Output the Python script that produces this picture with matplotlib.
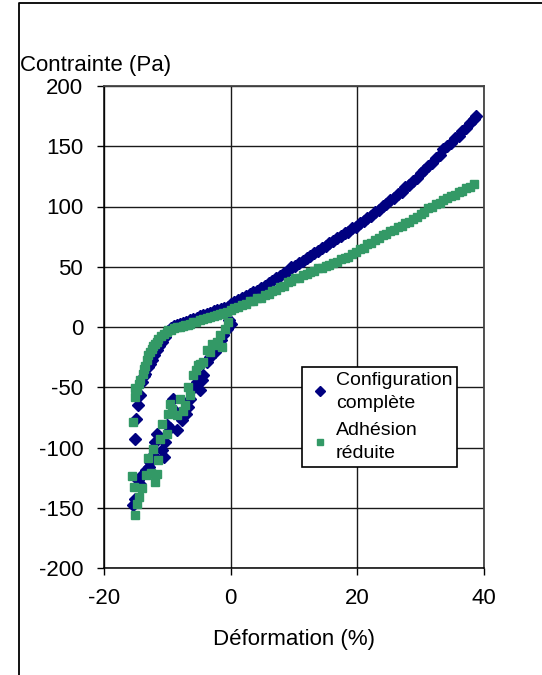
import matplotlib
matplotlib.use("Agg")
import matplotlib.pyplot as plt
from matplotlib.lines import Line2D

plt.rcParams['font.family'] = ['Liberation Sans', 'DejaVu Sans']
plt.rcParams['axes.unicode_minus'] = False

# ---- data ----
# Configuration complete (navy diamonds)
blue_neg_x = [-15.1, -14.9, -14.6, -14.3, -14.0, -13.7, -13.5, -13.1, -12.7, -12.5, -12.1, -11.7,
              -11.3, -10.9, -10.4, -9.9, -9.4, -8.9, -8.5, -8.0, -7.5, -7.0, -6.4, -5.9, -5.3,
              -4.8, -4.3, -3.8, -3.2, -2.7, -2.2, -1.6, -1.1, -0.5,
              -15.4, -15.1, -14.6, -14.3, -13.8, -13.3, -12.9, -12.7, -12.2, -11.7, -12.0, -10.9,
              -10.6, -10.4, -10.1, -9.6, -9.1, -8.5, -8.8, -7.7, -7.0, -6.8, -6.4, -5.9, -4.8,
              -5.3, -4.3, -4.6, -3.8, -3.3, -2.5, -2.0, -1.6, -1.2, -0.6, 0.0, -0.3]
blue_neg_y = [-92.7, -76, -65, -56.7, -45.7, -41, -38.7, -33, -30.4, -27, -23, -19.4,
              -15.5, -12.5, -8, -3.5, -1, 0.5, 1.9, 2.5, 3.2, 4.3, 5.5, 6.4, 7.6,
              8.9, 10.2, 11.0, 11.8, 13.0, 13.8, 14.6, 15.7, 16.9,
              -148, -143, -127, -130, -122, -119, -116, -112, -106.5, -88.5, -95.5, -102,
              -108, -95.5, -81.6, -84, -59.5, -85.8, -70, -77.4, -72, -66, -60, -51, -52.5,
              -46, -40, -44, -29, -25, -20.8, -15, -11, -6.9, -1.4, 2.7, 6]
blue_pos_x = [0.0, 0.6, 1.2, 1.8, 2.4, 3.0, 3.6, 4.2, 4.8, 5.4, 6.0, 6.6, 7.2, 7.8, 8.4, 9.0,
              9.6, 10.2, 10.8, 11.4, 12.0, 12.6, 13.2, 13.8, 14.4, 15.0, 15.6, 16.2, 16.8,
              17.4, 18.0, 18.6, 19.2, 19.8, 20.4, 21.0, 21.6, 22.2, 22.8, 23.4, 24.0, 24.6,
              25.2, 25.8, 26.4, 27.0, 27.6, 28.2, 28.8, 29.4, 30.0, 30.6, 31.2, 31.8, 32.4,
              33.0, 33.6, 34.2, 34.8, 35.4, 36.0, 36.6, 37.2, 37.8, 38.4, 38.8]
blue_pos_y = [19.0, 20.6, 22.3, 23.9, 25.7, 27.0, 28.9, 30.1, 32.2, 34.0, 36.4, 38.2, 40.6,
              42.3, 44.9, 46.8, 49.4, 50.9, 53.5, 55.1, 57.6, 59.0, 61.4, 62.9, 65.6, 67.2,
              69.8, 71.1, 73.7, 75.3, 77.6, 79.0, 81.8, 83.1, 86.0, 87.7, 90.8, 92.3, 95.4,
              97.2, 100.3, 102.1, 105.2, 106.9, 110.1, 112.4, 115.8, 117.9, 121.3, 123.8,
              127.5, 129.9, 133.8, 136.4, 140.5, 142.8, 147.4, 150.2, 153.1, 156.8, 158.9,
              162.4, 165.3, 169.6, 172.5, 174.8]

# Adhesion reduite (green squares)
green_neg_x = [-15.4, -15.1, -15.1, -14.8, -14.5, -14.3, -13.9, -13.7, -13.5, -13.2, -13.0, -12.7,
               -12.5, -12.2, -11.9, -11.7, -11.4, -11.0, -10.6, -10.1, -9.9, -9.5, -9.0, -8.5,
               -8.0, -7.6, -7.2, -6.8, -6.4, -5.9, -5.5, -4.9, -4.3, -3.8, -3.3, -2.7, -2.2,
               -1.7, -1.2, -0.6,
               -15.1, -14.8, -14.4, -15.2, -14.0, -15.6, -13.3, -12.0, -11.7, -12.6, -13.0,
               -11.4, -12.2, -11.2, -10.1, -10.9, -9.9, -9.6, -9.2, -8.5, -8.0, -7.2, -7.6,
               -6.4, -6.8, -5.9, -5.5, -5.1, -4.8, -4.3, -3.8, -3.3, -3.0, -2.7, -2.2, -2.0,
               -1.4, -1.7, -0.9, -0.4]
green_neg_y = [-79, -58, -51, -52, -47, -44, -39, -35, -32, -27, -23.5, -21,
               -18, -16, -14, -12.5, -9.7, -7.5, -5.6, -4, -2.8, -2.5, -1, -0.3,
               0, 0.8, 1.5, 2.0, 2.7, 3.8, 4.5, 5.5, 6.9, 7.2, 8.0, 8.9, 9.7,
               10.5, 11.5, 12.3,
               -155.8, -146.6, -141, -133, -134, -124, -123, -128.6, -121.8, -121, -108.7,
               -110.7, -101, -92.7, -88.5, -80.2, -72, -63.7, -68, -73.3, -59.5, -65, -70,
               -56.7, -50, -40, -36, -31.8, -30.4, -29, -19.4, -20.8, -13.9, -15.2, -12.5, -13.8,
               -16.6, -6.9, -1.4, 4.2]
green_pos_x = [0.0, 0.6, 1.2, 1.8, 2.4, 3.0, 3.6, 4.2, 4.8, 5.4, 6.0, 6.6, 7.2, 7.8, 8.4, 9.0,
               9.6, 10.2, 10.8, 11.4, 12.0, 12.6, 13.2, 13.8, 14.4, 15.0, 15.6, 16.2, 16.8,
               17.4, 18.0, 18.6, 19.2, 19.8, 20.4, 21.0, 21.6, 22.2, 22.8, 23.4, 24.0, 24.6,
               25.2, 25.8, 26.4, 27.0, 27.6, 28.2, 28.8, 29.4, 30.0, 30.6, 31.2, 31.8, 32.4,
               33.0, 33.6, 34.2, 34.8, 35.4, 36.0, 36.6, 37.2, 37.8, 38.4]
green_pos_y = [14.0, 15.9, 16.4, 18.6, 19.1, 21.2, 21.8, 23.9, 24.4, 26.3, 27.2, 29.9, 31.0,
               33.6, 34.4, 37.1, 38.0, 40.3, 40.9, 43.2, 43.8, 45.9, 46.6, 48.7, 48.9, 50.6,
               51.2, 53.4, 53.9, 56.2, 57.1, 58.5, 60.9, 62.1, 64.6, 65.9, 68.8, 69.9, 72.6,
               74.0, 76.3, 77.1, 79.6, 80.5, 82.8, 84.0, 86.1, 86.9, 89.6, 91.0, 93.9, 95.2,
               98.4, 99.6, 101.9, 103.1, 105.8, 107.0, 108.9, 109.8, 112.1, 113.0, 115.1,
               116.0, 118.4]

labels = ["Configuration\ncomplète", "Adhésion\nréduite"]
x_ticks = [-20, 0, 20, 40]
y_ticks = [-200, -150, -100, -50, 0, 50, 100, 150, 200]

# ---- figure ----
W, H = 542, 675
fig = plt.figure(figsize=(W / 100, H / 100), dpi=100)
ax = fig.add_axes([104 / W, 1 - 568 / H, 380 / W, 482 / H])

blue = "#000080"
green = "#339966"
ax.plot(blue_neg_x + blue_pos_x, blue_neg_y + blue_pos_y, linestyle="none", marker="D",
        ms=6.3, color=blue, mec=blue, label=labels[0], zorder=3)
ax.plot(green_neg_x + green_pos_x, green_neg_y + green_pos_y, linestyle="none", marker="s",
        ms=6.0, color=green, mec=green, label=labels[1], zorder=4)

ax.set_xlim(x_ticks[0], x_ticks[-1])
ax.set_ylim(y_ticks[0], y_ticks[-1])
ax.set_xticks(x_ticks)
ax.set_yticks(y_ticks)
ax.grid(True, color="#1a1a1a", linewidth=1.0)
ax.set_axisbelow(True)
for side in ["left", "bottom"]:
    ax.spines[side].set_color("black")
    ax.spines[side].set_linewidth(1.1)
for side in ["top", "right"]:
    ax.spines[side].set_color("#444444")
    ax.spines[side].set_linewidth(1.3)
ax.tick_params(axis="both", direction="out", length=5, width=1, labelsize=16, color="black")
ax.tick_params(axis="x", pad=9.5)
ax.tick_params(axis="y", pad=10)

fig.text(20 / W, 1 - 71 / H, "Contrainte (Pa)", fontsize=16, ha="left", va="baseline")
fig.text(294 / W, 1 - 645 / H, "Déformation (%)", fontsize=16, ha="center", va="baseline")

leg = ax.legend(loc="upper left", bbox_to_anchor=(302 / W, 1 - 367 / H),
                bbox_transform=fig.transFigure, borderaxespad=0, fancybox=False,
                edgecolor="black", framealpha=1, fontsize=14, handlelength=1.4,
                handletextpad=0.1, labelspacing=0.55, borderpad=0.25, markerscale=0.75)
leg.get_frame().set_linewidth(1.2)
for t in leg.get_texts():
    t.set_linespacing(1.45)

# outer frame (left and top edges only, like the source image)
fig.add_artist(Line2D([18.5 / W, 18.5 / W, 1], [0, 1 - 2.5 / H, 1 - 2.5 / H],
                      transform=fig.transFigure, color="black", linewidth=1.3))

fig.savefig("out.png", dpi=100)
